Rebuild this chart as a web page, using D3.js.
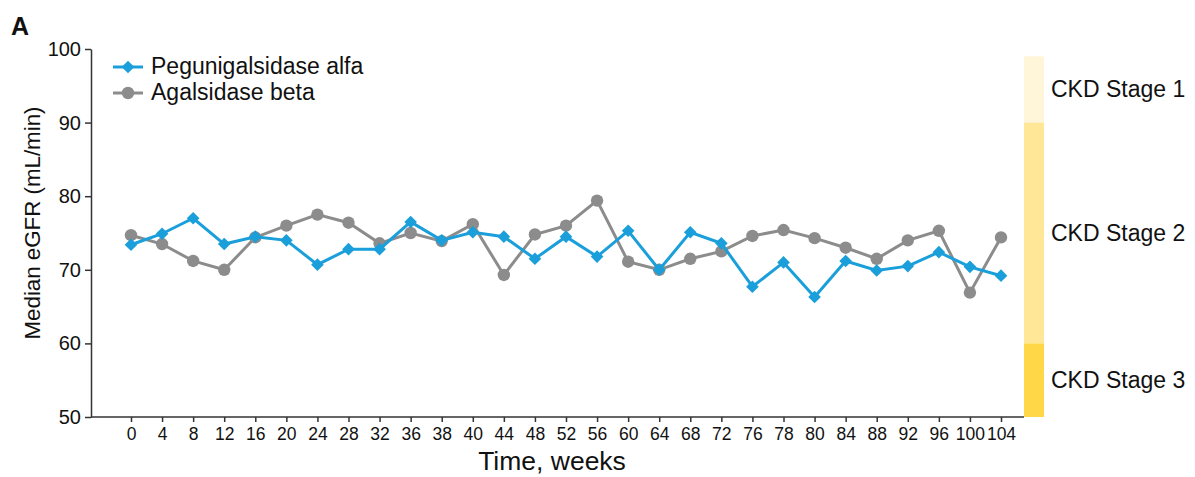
<!DOCTYPE html>
<html>
<head>
<meta charset="utf-8">
<script src="https://cdn.jsdelivr.net/npm/d3@7/dist/d3.min.js"></script>
<style>
  body { margin: 0; background: #fff; }
  svg { display: block; font-family: "Liberation Sans", Arial, sans-serif; }
</style>
</head>
<body>
<svg id="chart" width="1195" height="477"></svg>
<script>
// Visit weeks (categorical, evenly spaced)
const weeks = [0, 4, 8, 12, 16, 20, 24, 28, 32, 36, 38, 40, 44, 48, 52, 56, 60, 64, 68, 72, 76, 78, 80, 84, 88, 92, 96, 100, 104];

// Median eGFR (mL/min) per visit
const pegunigalsidase = [73.4, 74.9, 77.0, 73.5, 74.5, 74.0, 70.7, 72.8, 72.8, 76.5, 74.0, 75.1, 74.5, 71.5, 74.5, 71.8, 75.3, 70.0, 75.1, 73.6, 67.7, 71.0, 66.3, 71.2, 69.9, 70.5, 72.4, 70.4, 69.2];
const agalsidase = [74.7, 73.5, 71.2, 70.0, 74.4, 76.0, 77.5, 76.4, 73.6, 75.0, 73.9, 76.2, 69.3, 74.8, 76.0, 79.4, 71.1, 70.0, 71.5, 72.5, 74.6, 75.4, 74.3, 73.0, 71.5, 74.0, 75.3, 66.9, 74.4];

const yTicks = [50, 60, 70, 80, 90, 100];

// CKD stage bands: lower / upper eGFR bounds
const stageNames = ["CKD Stage 1", "CKD Stage 2", "CKD Stage 3"];
const stageLow = [90, 60, 50];
const stageHigh = [99, 90, 60];
const stageColors = ["#fff6d9", "#ffe797", "#ffd747"];

const seriesNames = ["Pegunigalsidase alfa", "Agalsidase beta"];
const seriesColors = ["#1a9fdb", "#8c8c8c"];

const FONT = "Liberation Sans, Arial, sans-serif";
const svg = d3.select("#chart");
const plotLeft = 91, plotRight = 1024, plotTop = 49, plotBottom = 417;

const x = d3.scalePoint().domain(weeks).range([131, 1001]);
const y = d3.scaleLinear().domain([50, 100]).range([plotBottom, plotTop]);

// Y axis
const yAxis = svg.append("g")
  .attr("transform", `translate(${plotLeft},0)`)
  .call(d3.axisLeft(y).tickValues(yTicks).tickSize(6).tickPadding(4).tickSizeOuter(0));
yAxis.select(".domain").attr("stroke", "#333").attr("stroke-width", 1.5);
yAxis.selectAll(".tick line").attr("stroke", "#333").attr("stroke-width", 1.5);
yAxis.selectAll(".tick text").attr("font-size", 20).attr("fill", "#111").attr("font-family", FONT);

// X axis
const xAxis = svg.append("g")
  .attr("transform", `translate(0,${plotBottom})`)
  .call(d3.axisBottom(x).tickSize(5).tickPadding(6));
xAxis.select(".domain").attr("d", `M${plotLeft},0H${plotRight}`).attr("stroke", "#333").attr("stroke-width", 1.5);
xAxis.selectAll(".tick line").attr("stroke", "#333").attr("stroke-width", 1.5);
xAxis.selectAll(".tick text").attr("font-size", 17.5).attr("fill", "#111").attr("font-family", FONT);

// Axis titles
svg.append("text")
  .attr("x", 552).attr("y", 470)
  .attr("text-anchor", "middle")
  .attr("font-size", 26.5).attr("fill", "#111")
  .text("Time, weeks");

svg.append("text")
  .attr("transform", "translate(40,223) rotate(-90)")
  .attr("text-anchor", "middle")
  .attr("font-size", 22.3).attr("fill", "#111")
  .text("Median eGFR (mL/min)");

// Panel letter
svg.append("text")
  .attr("x", 11).attr("y", 35)
  .attr("font-size", 25).attr("font-weight", "bold").attr("fill", "#111")
  .text("A");

// CKD stage bands
const bandX = 1024, bandW = 20;
stageNames.forEach((name, i) => {
  svg.append("rect")
    .attr("x", bandX).attr("width", bandW)
    .attr("y", y(stageHigh[i]))
    .attr("height", y(stageLow[i]) - y(stageHigh[i]))
    .attr("fill", stageColors[i]);
  svg.append("text")
    .attr("x", 1051)
    .attr("y", (y(stageHigh[i]) + y(stageLow[i])) / 2 + 8)
    .attr("font-size", 23).attr("fill", "#111")
    .text(name);
});

// Series lines and markers
const line = d3.line().x((d, i) => x(weeks[i])).y(d => y(d));

function drawMarker(g, type, cx, cy, color) {
  if (type === 0) {
    g.append("path").attr("d", d3.symbol().type(d3.symbolSquare).size(80)())
      .attr("transform", `translate(${cx},${cy}) rotate(45)`)
      .attr("fill", color);
  } else {
    g.append("circle").attr("cx", cx).attr("cy", cy).attr("r", 6.2).attr("fill", color);
  }
}

// gray series first so blue sits on top
[1, 0].forEach(s => {
  const data = s === 0 ? pegunigalsidase : agalsidase;
  const g = svg.append("g");
  g.append("path").datum(data)
    .attr("d", line)
    .attr("fill", "none")
    .attr("stroke", seriesColors[s])
    .attr("stroke-width", 3);
  data.forEach((v, i) => drawMarker(g, s, x(weeks[i]), y(v), seriesColors[s]));
});

// Legend
seriesNames.forEach((name, i) => {
  const ly = 67 + i * 26;
  const g = svg.append("g");
  g.append("line").attr("x1", 113).attr("x2", 143).attr("y1", ly).attr("y2", ly)
    .attr("stroke", seriesColors[i]).attr("stroke-width", 3);
  drawMarker(g, i, 128, ly, seriesColors[i]);
  g.append("text").attr("x", 151).attr("y", ly + 6.5)
    .attr("font-size", 23).attr("fill", "#111").text(name);
});
</script>
</body>
</html>
